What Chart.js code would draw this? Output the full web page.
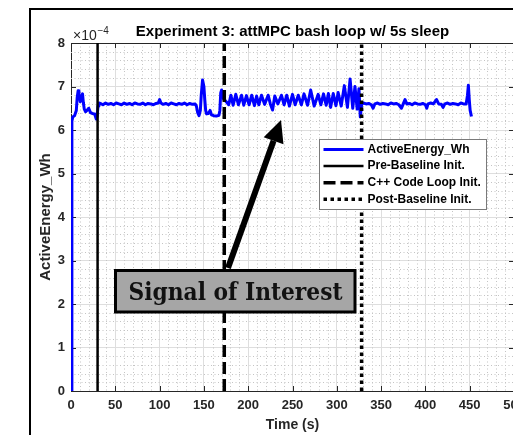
<!DOCTYPE html>
<html lang="en">
<head>
  <meta charset="UTF-8">
  <title>Experiment 3: attMPC bash loop w/ 5s sleep</title>
  <script src="https://cdn.jsdelivr.net/npm/chart.js"></script>
  <style>
    html, body {
      margin: 0;
      padding: 0;
      width: 513px;
      height: 435px;
      overflow: hidden;
      background: #fff;
    }
    #frame {
      position: absolute;
      left: 29px;
      top: 8px;
      width: 600px;
      height: 500px;
      border-left: 2px solid #000;
      border-top: 2px solid #000;
    }
    #energyChart {
      position: absolute;
      left: 0;
      top: 0;
    }
  </style>
</head>
<body>
  <div id="frame"></div>
  <canvas id="energyChart" width="560" height="435"></canvas>

  <script>
    const timeS = [
      0, 1, 2, 4, 6, 7, 8, 9, 10.5, 12, 13, 14, 15, 16.5, 18, 20, 22, 24, 26, 27, 28.5, 29.5, 30.5, 31.5,
      33, 36, 39, 42, 45, 48, 51, 54, 57, 60, 63, 66, 69, 72, 75, 78, 81, 84, 87, 90, 93, 96, 98.5, 100, 101.5,
      104, 107, 110, 113, 116, 119, 122, 125, 128, 131, 134, 137, 140, 141.5,
      143, 144.5, 146, 147, 148.5, 150, 151, 152, 153, 155, 157, 158.5, 161, 164, 167, 168, 169, 170, 171, 172.5, 174, 176.5,
      178, 180.5, 183, 186, 189, 192.5, 195, 198, 201, 204, 207, 209.5, 212, 215, 218.5, 222.5, 225, 227.5, 230, 233.5,
      237.5, 240.5, 243.5, 246.5, 250, 253, 256.5, 260, 263, 267, 270.5, 274.5, 279, 282, 285, 288, 290.5, 293, 296, 299,
      301.5, 305, 308.5, 312, 315, 318, 320.5, 323, 325, 326.5, 328,
      330, 333, 336, 339, 341, 343, 346, 349, 352, 355, 358, 361, 364, 367, 370, 373, 375, 377, 379, 382, 385, 388, 391,
      394, 397, 400, 401.5, 403, 406, 409, 412.5, 415, 418, 420, 422, 425, 428, 431, 434, 437, 440, 443, 446, 447.5,
      448.5, 449.5, 450.5, 452
    ];
    const energyE4 = [
      0, 6.2, 6.3, 6.33, 6.45, 6.75, 6.9, 6.82, 6.65, 6.78, 6.83, 6.62, 6.48, 6.42, 6.45, 6.5, 6.4, 6.38, 6.37, 6.35, 6.25, 6.33, 6.55, 6.62,
      6.61, 6.58, 6.62, 6.59, 6.61, 6.58, 6.62, 6.6, 6.58, 6.62, 6.59, 6.61, 6.58, 6.62, 6.6, 6.59, 6.62, 6.58, 6.61, 6.6, 6.58, 6.61, 6.62, 6.7, 6.62,
      6.59, 6.61, 6.58, 6.62, 6.6, 6.58, 6.61, 6.59, 6.62, 6.58, 6.61, 6.59, 6.6, 6.55,
      6.4, 6.33, 6.45, 6.8, 7.15, 7.0, 6.7, 6.45, 6.37, 6.38, 6.45, 6.35, 6.33, 6.32, 6.34, 6.45, 6.85, 6.92, 6.82, 6.7, 6.68, 6.62,
      6.58, 6.8, 6.57, 6.82, 6.58, 6.8, 6.57, 6.79, 6.58, 6.8, 6.56, 6.78, 6.58, 6.8, 6.59, 6.8, 6.6, 6.46, 6.78, 6.6,
      6.8, 6.58, 6.8, 6.55, 6.82, 6.58, 6.8, 6.58, 6.83, 6.57, 6.92, 6.55, 6.82, 6.58, 6.83, 6.57, 6.84, 6.52, 6.84, 6.56,
      6.86, 6.55, 7.02, 6.52, 7.17, 6.5, 7.0, 6.48, 6.95, 6.3, 6.58,
      6.62, 6.6, 6.61, 6.58, 6.5, 6.6, 6.62, 6.59, 6.61, 6.6, 6.58, 6.62, 6.6, 6.61, 6.58, 6.5, 6.6, 6.7, 6.6, 6.61, 6.58, 6.62, 6.6,
      6.59, 6.61, 6.58, 6.5, 6.6, 6.62, 6.6, 6.7, 6.6, 6.59, 6.52, 6.6, 6.62, 6.59, 6.61, 6.6, 6.58, 6.62, 6.6, 6.6, 6.8,
      7.03, 6.7, 6.45, 6.31
    ];

    // Phase markers (s) and their legend labels
    const markerLabels = ["Pre-Baseline Init.", "C++ Code Loop Init.", "Post-Baseline Init."];
    const markerTimes = [30, 173, 328];

    // Axis ticks
    const xTicks = [0, 50, 100, 150, 200, 250, 300, 350, 400, 450, 500];
    const yTicks = [0, 1, 2, 3, 4, 5, 6, 7, 8];

    const axisColor = "#262626";
    const sansFont = "'Liberation Sans', Arial, sans-serif";

    const series = timeS.map((t, i) => ({ x: t, y: energyE4[i] }));
    const markerLine = (t) => [{ x: t, y: yTicks[0] }, { x: t, y: yTicks[yTicks.length - 1] }];

    // minor dotted grid, box outline and inward tick marks (MATLAB look)
    const axesBoxPlugin = {
      id: "axesBox",
      beforeDatasetsDraw(chart) {
        const { ctx, chartArea: a, scales: { x, y } } = chart;
        const px = (v) => Math.round(v) + 0.5;
        ctx.save();

        ctx.strokeStyle = "#c4c4c4";
        ctx.lineWidth = 1;
        ctx.setLineDash([1, 2.5]);
        ctx.beginPath();
        for (let i = 0; i < xTicks.length - 1; i++) {
          const step = (xTicks[i + 1] - xTicks[i]) / 5;
          for (let k = 1; k < 5; k++) {
            const xp = px(x.getPixelForValue(xTicks[i] + k * step));
            ctx.moveTo(xp, a.top);
            ctx.lineTo(xp, a.bottom);
          }
        }
        for (let i = 0; i < yTicks.length - 1; i++) {
          const step = (yTicks[i + 1] - yTicks[i]) / 5;
          for (let k = 1; k < 5; k++) {
            const yp = px(y.getPixelForValue(yTicks[i] + k * step));
            ctx.moveTo(a.left, yp);
            ctx.lineTo(a.right, yp);
          }
        }
        ctx.stroke();

        ctx.setLineDash([]);
        ctx.strokeStyle = axisColor;
        ctx.beginPath();
        ctx.moveTo(a.left, px(a.top));
        ctx.lineTo(a.right, px(a.top));
        ctx.moveTo(px(a.right), a.top);
        ctx.lineTo(px(a.right), a.bottom);
        xTicks.forEach((v) => {
          const xp = px(x.getPixelForValue(v));
          ctx.moveTo(xp, a.bottom);
          ctx.lineTo(xp, a.bottom - 5);
          ctx.moveTo(xp, a.top);
          ctx.lineTo(xp, a.top + 5);
        });
        yTicks.forEach((v) => {
          const yp = px(y.getPixelForValue(v));
          ctx.moveTo(a.left, yp);
          ctx.lineTo(a.left + 5, yp);
          ctx.moveTo(a.right, yp);
          ctx.lineTo(a.right - 5, yp);
        });
        ctx.stroke();
        ctx.restore();
      },
      afterDraw(chart) {
        const { ctx, chartArea: a } = chart;
        ctx.save();

        // exponent label
        ctx.fillStyle = axisColor;
        ctx.textBaseline = "alphabetic";
        ctx.font = "14px " + sansFont;
        ctx.fillText("\u00d710", a.left + 2, 39.5);
        ctx.font = "10px " + sansFont;
        ctx.fillText("\u22124", a.left + 26.5, 33.5);

        // legend inside the axes
        const lx = a.right - 194.5, ly = 139.5, lw = 167, lh = 70;
        ctx.fillStyle = "#fff";
        ctx.fillRect(lx, ly, lw, lh);
        ctx.strokeStyle = "#7a7a7a";
        ctx.lineWidth = 1;
        ctx.strokeRect(lx, ly, lw, lh);
        ctx.font = "bold 12px " + sansFont;
        ctx.textBaseline = "middle";
        chart.data.datasets.forEach((d, i) => {
          const yy = ly + 10 + i * 16.6;
          ctx.strokeStyle = d.borderColor;
          ctx.lineWidth = d.borderWidth;
          ctx.setLineDash(d.borderDash || []);
          ctx.beginPath();
          ctx.moveTo(lx + 4, yy);
          ctx.lineTo(lx + 44, yy);
          ctx.stroke();
          ctx.setLineDash([]);
          ctx.fillStyle = "#000";
          ctx.fillText(d.label, lx + 48, yy);
        });

        // arrow pointing at the loop section
        const tail = { x: 228, y: 268 };
        const tip = { x: 281, y: 120 };
        const ang = Math.atan2(tip.y - tail.y, tip.x - tail.x);
        const headLen = 22, headHalf = 10.5;
        const base = { x: tip.x - headLen * Math.cos(ang), y: tip.y - headLen * Math.sin(ang) };
        ctx.strokeStyle = "#000";
        ctx.fillStyle = "#000";
        ctx.lineWidth = 6;
        ctx.beginPath();
        ctx.moveTo(tail.x, tail.y);
        ctx.lineTo(base.x, base.y);
        ctx.stroke();
        ctx.beginPath();
        ctx.moveTo(tip.x, tip.y);
        ctx.lineTo(base.x + headHalf * Math.sin(ang), base.y - headHalf * Math.cos(ang));
        ctx.lineTo(base.x - headHalf * Math.sin(ang), base.y + headHalf * Math.cos(ang));
        ctx.closePath();
        ctx.fill();

        // "Signal of Interest" box
        ctx.fillStyle = "#a6a6a6";
        ctx.fillRect(115.5, 270.5, 239.5, 41.5);
        ctx.lineWidth = 3;
        ctx.strokeStyle = "#000";
        ctx.strokeRect(115.5, 270.5, 239.5, 41.5);
        ctx.font = "bold 24px 'DejaVu Serif', serif";
        ctx.textBaseline = "alphabetic";
        ctx.textAlign = "center";
        const label = "Signal of Interest";
        const w = ctx.measureText(label).width;
        ctx.translate(235.5, 300);
        ctx.scale(Math.min(1, 214 / w), 1);
        ctx.fillStyle = "#111";
        ctx.fillText(label, 0, 0);
        ctx.restore();
      }
    };

    const markerStyles = [
      { borderWidth: 2.5, borderDash: [] },
      { borderWidth: 3.5, borderDash: [12, 5] },
      { borderWidth: 3.5, borderDash: [3.5, 3.5] }
    ];

    const datasets = [{
      label: "ActiveEnergy_Wh",
      data: series,
      borderColor: "#0000ff",
      borderWidth: 3,
      borderJoinStyle: "round",
      pointRadius: 0,
      tension: 0,
      order: 1
    }].concat(markerTimes.map((t, i) => ({
      label: markerLabels[i],
      data: markerLine(t),
      borderColor: "#000",
      borderWidth: markerStyles[i].borderWidth,
      borderDash: markerStyles[i].borderDash,
      pointRadius: 0,
      order: 0
    })));

    new Chart(document.getElementById("energyChart").getContext("2d"), {
      type: "line",
      data: { datasets: datasets },
      plugins: [axesBoxPlugin],
      options: {
        responsive: false,
        animation: false,
        devicePixelRatio: 1,
        layout: { padding: { left: 0, right: 46, top: 0, bottom: 0 } },
        plugins: {
          legend: { display: false },
          tooltip: { enabled: false },
          title: {
            display: true,
            text: "Experiment 3: attMPC bash loop w/ 5s sleep",
            color: "#000",
            fullSize: false,
            font: { family: sansFont, size: 15, weight: "bold" },
            padding: { top: 23, bottom: 2 }
          }
        },
        scales: {
          x: {
            type: "linear",
            min: xTicks[0],
            max: xTicks[xTicks.length - 1],
            afterBuildTicks: (s) => { s.ticks = xTicks.map((v) => ({ value: v })); },
            afterFit: (s) => { s.height = 44; },
            ticks: {
              autoSkip: false,
              maxRotation: 0,
              padding: 7,
              color: axisColor,
              font: { family: sansFont, size: 13, weight: "bold" }
            },
            grid: { color: "#dedede", lineWidth: 1, drawTicks: false },
            border: { color: axisColor, width: 1 },
            title: {
              display: true,
              text: "Time (s)",
              color: axisColor,
              font: { family: sansFont, size: 14, weight: "bold" },
              padding: { top: 0, bottom: 1 }
            }
          },
          y: {
            min: yTicks[0],
            max: yTicks[yTicks.length - 1],
            afterBuildTicks: (s) => { s.ticks = yTicks.map((v) => ({ value: v })); },
            afterFit: (s) => { s.width = 71; },
            ticks: {
              padding: 6,
              color: axisColor,
              font: { family: sansFont, size: 13, weight: "bold" }
            },
            grid: { color: "#dedede", lineWidth: 1, drawTicks: false },
            border: { color: axisColor, width: 1 },
            title: {
              display: true,
              text: "ActiveEnergy_Wh",
              color: axisColor,
              font: { family: sansFont, size: 15, weight: "bold" },
              padding: { top: 36.5, bottom: 0 }
            }
          }
        }
      }
    });
  </script>
</body>
</html>
